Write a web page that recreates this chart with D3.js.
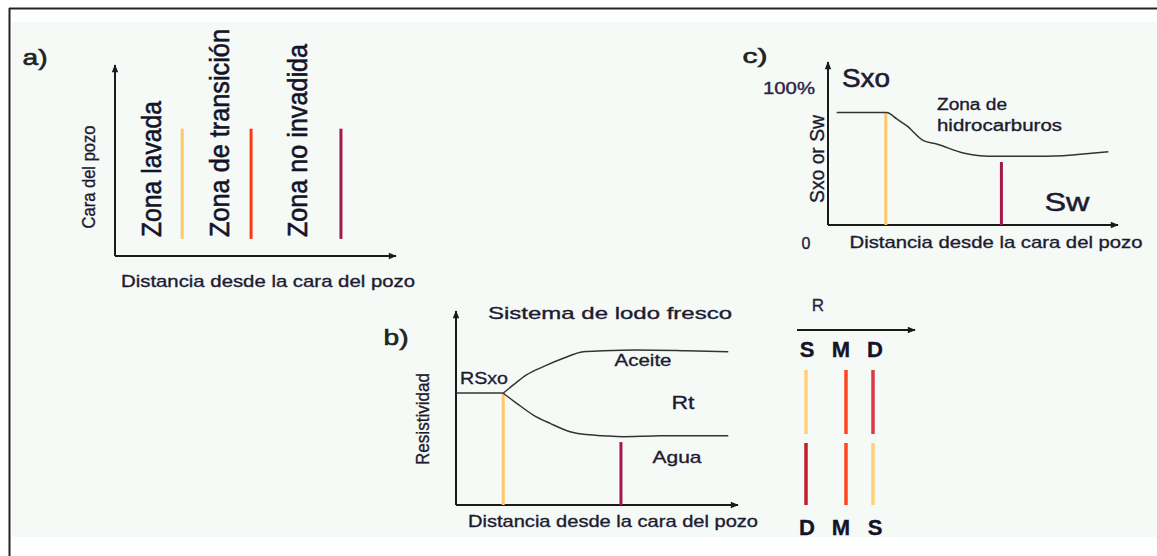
<!DOCTYPE html>
<html>
<head>
<meta charset="utf-8">
<script src="https://cdn.jsdelivr.net/npm/d3@7"></script>
<style>
  html, body { margin: 0; padding: 0; background: #ffffff; }
  svg { display: block; }
  text { font-family: "Liberation Sans", Arial, sans-serif; }
</style>
</head>
<body>
<svg id="fig" width="1157" height="556"></svg>
<script>
// ---- Data -------------------------------------------------------------
// a) zones around the borehole (distance 0..10, height 0..10)
const zoneNames = ["Zona lavada", "Zona de transición", "Zona no invadida"];
const zoneLabelX = [1.3, 3.72, 6.5];
const zoneBoundaryX = [2.4, 4.86, 8.07];
const zoneBoundaryColors = ["#ffc866", "#ff3810", "#a3184c"];
const zoneBoundarySpan = [0.9, 6.7];

// b) resistivity profiles, fresh mud system (distance 0..10, resistivity 0..100)
const rxoLevel = 58;
const oilDist = [1.68, 2.04, 2.51, 3.11, 3.82, 4.53, 5.24, 6.43, 8.21, 9.69];
const oilRes  = [57.9, 62.2, 67.4, 71.7, 76.0, 79.4, 79.9, 80.3, 79.9, 79.4];
const waterDist = [1.68, 2.16, 2.75, 3.35, 4.06, 4.53, 5.24, 5.95, 7.02, 8.21, 9.69];
const waterRes  = [57.9, 52.7, 46.6, 42.3, 38.0, 36.6, 35.9, 35.4, 35.8, 35.9, 35.9];
const resMarkerX = [1.68, 5.87];
const resMarkerTop = [57.9, 32.6];
const resMarkerColors = ["#ffc866", "#a3184c"];

// c) saturation vs distance (distance 0..10, saturation 0..100 %)
const satDist = [0.3, 2.03, 2.38, 2.72, 3.30, 3.76, 4.68, 5.26, 5.84, 6.99, 8.14, 8.83, 9.70];
const satVal  = [82.2, 82.2, 77.4, 72.5, 61.6, 59.1, 52.6, 50.6, 50.1, 50.1, 50.6, 51.8, 53.5];
const satMarkerX = [2.0, 6.0];
const satMarkerTop = [82.2, 46];
const satMarkerColors = ["#ffc866", "#a3184c"];
const satTicks = ["0", "100%"];

// R key: shallow / medium / deep readings
const keyTop = ["S", "M", "D"];
const keyBottom = ["D", "M", "S"];
const keyTopColors = ["#ffd27a", "#ff4420", "#d93a44"];
const keyBottomColors = ["#c41c2a", "#ff4420", "#ffd27a"];

// ---- Drawing ----------------------------------------------------------
const svg = d3.select("#fig");
const ink = "#1e1b30";
const axisInk = "#1a1a1a";

// page frame
svg.append("rect").attr("x", 12).attr("y", 22).attr("width", 1145).attr("height", 515)
  .attr("fill", "#f5faf7");
svg.append("line").attr("x1", 9).attr("x2", 1157).attr("y1", 8.5).attr("y2", 8.5)
  .attr("stroke", "#bbbbbb").attr("stroke-width", 3);
svg.append("line").attr("x1", 9).attr("x2", 1157).attr("y1", 8.5).attr("y2", 8.5)
  .attr("stroke", "#222").attr("stroke-width", 1.6);
svg.append("line").attr("x1", 9.5).attr("x2", 9.5).attr("y1", 8).attr("y2", 556)
  .attr("stroke", "#222").attr("stroke-width", 2);

const defs = svg.append("defs");
defs.append("marker").attr("id", "arrow").attr("viewBox", "0 0 10 10")
  .attr("refX", 9).attr("refY", 5).attr("markerWidth", 10).attr("markerHeight", 8)
  .attr("markerUnits", "userSpaceOnUse").attr("orient", "auto")
  .append("path").attr("d", "M0,1 L10,5 L0,9 Z").attr("fill", axisInk);

function label(g, str, x, y, opts = {}) {
  const fill = opts.fill || ink;
  const t = g.append("text").text(str)
    .attr("x", x).attr("y", y)
    .attr("fill", fill)
    .attr("stroke", fill).attr("stroke-width", opts.stroke != null ? opts.stroke : 0.35)
    .attr("font-size", opts.size || 16)
    .attr("font-weight", opts.weight || "normal")
    .attr("text-anchor", opts.anchor || "middle")
    .attr("dominant-baseline", "central");
  if (opts.width) t.attr("textLength", opts.width).attr("lengthAdjust", "spacingAndGlyphs");
  if (opts.rotate) t.attr("transform", `rotate(${opts.rotate},${x},${y})`);
  return t;
}

function axes(g, x, y, xArrow, yArrow) {
  const [x0] = x.range();
  const [y0] = y.range();
  g.append("line").attr("x1", x0).attr("x2", xArrow).attr("y1", y0).attr("y2", y0)
    .attr("stroke", axisInk).attr("stroke-width", 2).attr("marker-end", "url(#arrow)");
  g.append("line").attr("x1", x0).attr("x2", x0).attr("y1", y0).attr("y2", yArrow)
    .attr("stroke", axisInk).attr("stroke-width", 2).attr("marker-end", "url(#arrow)");
}

// ---- a) zones ----
{
  const g = svg.append("g");
  const x = d3.scaleLinear().domain([0, 10]).range([115, 395]);
  const y = d3.scaleLinear().domain([0, 10]).range([256, 66]);
  axes(g, x, y, 396, 65);
  label(g, "a)", 35, 57, { size: 22, width: 25, fill: "#222", stroke: 0.6 });
  label(g, "Cara del pozo", 88, 177, { size: 19, width: 103, rotate: -90 });
  label(g, "Distancia desde la cara del pozo", 268, 281, { size: 17, width: 294 });
  const zoneLens = [136, 208, 193];
  zoneNames.forEach((n, i) => {
    label(g, n, x(zoneLabelX[i]), 237, { size: 28, anchor: "start", rotate: -90,
      width: zoneLens[i], fill: "#15132a", stroke: 0.6 });
  });
  g.selectAll("line.zb").data(zoneBoundaryX).join("line").attr("class", "zb")
    .attr("x1", d => x(d)).attr("x2", d => x(d))
    .attr("y1", y(zoneBoundarySpan[0])).attr("y2", y(zoneBoundarySpan[1]))
    .attr("stroke", (d, i) => zoneBoundaryColors[i]).attr("stroke-width", 3);
}

// ---- b) resistivity ----
{
  const g = svg.append("g");
  const x = d3.scaleLinear().domain([0, 10]).range([456, 737]);
  const y = d3.scaleLinear().domain([0, 100]).range([505, 312]);
  axes(g, x, y, 738, 311);
  label(g, "b)", 396, 337, { size: 22, width: 25, fill: "#222", stroke: 0.6 });
  label(g, "Sistema de lodo fresco", 610, 313, { size: 17, width: 244 });
  label(g, "Resistividad", 423, 419, { size: 18, width: 92, rotate: -90 });
  label(g, "Distancia desde la cara del pozo", 613, 521, { size: 17, width: 290 });
  label(g, "RSxo", 484, 378, { size: 17, width: 48 });
  label(g, "Aceite", 643, 360, { size: 17, width: 57 });
  label(g, "Rt", 683, 402, { size: 19, width: 23 });
  label(g, "Agua", 677, 457, { size: 17, width: 49 });

  const line = d3.line().curve(d3.curveMonotoneX).x(d => x(d[0])).y(d => y(d[1]));
  g.selectAll("line.mk").data(resMarkerX).join("line").attr("class", "mk")
    .attr("x1", d => x(d)).attr("x2", d => x(d))
    .attr("y1", y(0)).attr("y2", (d, i) => y(resMarkerTop[i]))
    .attr("stroke", (d, i) => resMarkerColors[i]).attr("stroke-width", 3);
  g.append("line").attr("x1", x(0)).attr("x2", x(oilDist[0]))
    .attr("y1", y(rxoLevel)).attr("y2", y(rxoLevel))
    .attr("stroke", "#333").attr("stroke-width", 1.5);
  g.append("path").attr("d", line(d3.zip(oilDist, oilRes)))
    .attr("fill", "none").attr("stroke", "#333").attr("stroke-width", 1.5);
  g.append("path").attr("d", line(d3.zip(waterDist, waterRes)))
    .attr("fill", "none").attr("stroke", "#333").attr("stroke-width", 1.5);
}

// ---- c) saturation ----
{
  const g = svg.append("g");
  const x = d3.scaleLinear().domain([0, 10]).range([828, 1117]);
  const y = d3.scaleLinear().domain([0, 100]).range([225, 88]);
  axes(g, x, y, 1118, 62);
  label(g, "c)", 755, 55, { size: 21, width: 25, fill: "#222", stroke: 0.6 });
  label(g, satTicks[1], 789, y(100), { size: 16, width: 52, fill: "#2c2248" });
  label(g, satTicks[0], 806, 243, { size: 16 });
  label(g, "Sxo", 866, 78, { size: 26, width: 48, stroke: 0.6 });
  label(g, "Sw", 1067, 202, { size: 26, width: 45, stroke: 0.5 });
  label(g, "Zona de", 937, 104, { size: 16, anchor: "start", width: 70 });
  label(g, "hidrocarburos", 937, 125, { size: 16, anchor: "start", width: 125 });
  label(g, "Sxo or Sw", 817, 159, { size: 20, width: 88, rotate: -90 });
  label(g, "Distancia desde la cara del pozo", 996, 242, { size: 17, width: 293 });

  g.selectAll("line.mk").data(satMarkerX).join("line").attr("class", "mk")
    .attr("x1", d => x(d)).attr("x2", d => x(d))
    .attr("y1", y(0)).attr("y2", (d, i) => y(satMarkerTop[i]))
    .attr("stroke", (d, i) => satMarkerColors[i]).attr("stroke-width", 3);
  const line = d3.line().curve(d3.curveMonotoneX).x(d => x(d[0])).y(d => y(d[1]));
  g.append("path").attr("d", line(d3.zip(satDist, satVal)))
    .attr("fill", "none").attr("stroke", "#333").attr("stroke-width", 1.5);
}

// ---- R key ----
{
  const g = svg.append("g");
  const x = d3.scalePoint().domain([0, 1, 2]).range([807, 875]);
  const lineX = [806, 846, 873];
  label(g, "R", 818, 305, { size: 17, fill: "#2c2248" });
  g.append("line").attr("x1", 797).attr("x2", 915).attr("y1", 330).attr("y2", 330)
    .attr("stroke", axisInk).attr("stroke-width", 2).attr("marker-end", "url(#arrow)");
  keyTop.forEach((k, i) => label(g, k, x(i), 349, { size: 22, weight: "bold", fill: "#15132a" }));
  keyBottom.forEach((k, i) => label(g, k, x(i), 527, { size: 22, weight: "bold", fill: "#15132a" }));
  keyTopColors.forEach((c, i) => g.append("line").attr("x1", lineX[i]).attr("x2", lineX[i])
    .attr("y1", 370).attr("y2", 434).attr("stroke", c).attr("stroke-width", 3.5));
  keyBottomColors.forEach((c, i) => g.append("line").attr("x1", lineX[i]).attr("x2", lineX[i])
    .attr("y1", 443).attr("y2", 505).attr("stroke", c).attr("stroke-width", 3.5));
}
</script>
</body>
</html>
